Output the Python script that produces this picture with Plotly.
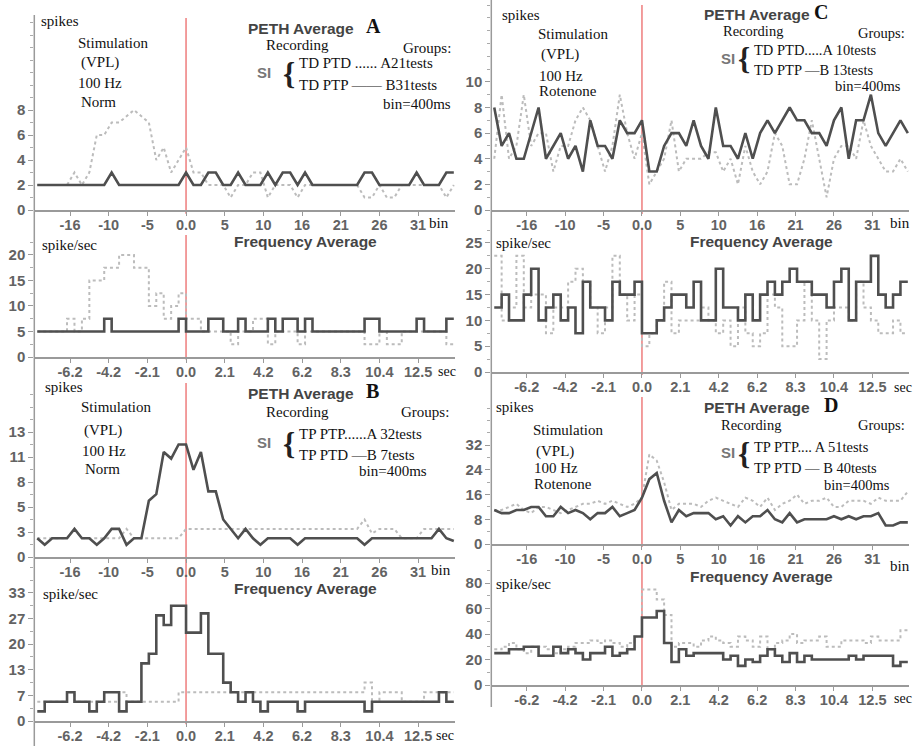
import plotly.graph_objects as go

W, H = 913, 746

# ---------------- data ----------------
BINS = list(range(-20, 37))          # PETH points (bin index, 400 ms bins)
EDGES = list(range(-20, 37))         # frequency-step interval edges

BIN_TICKS = [-15.6, -10.4, -5.2, 0, 5.2, 10.4, 15.6, 20.8, 26.0, 31.2]
BIN_LABELS = ["-16", "-10", "-5", "0.0", "5", "10", "16", "21", "26", "31"]
SEC_LABELS = ["-6.2", "-4.2", "-2.1", "0.0", "2.1", "4.2", "6.2", "8.3", "10.4", "12.5"]

# Panel A (Norm, TD)  -- spikes per bin
a_dark_count = [2, 2, 2, 2, 2, 2, 2, 2, 2, 2, 3, 2, 2, 2, 2, 2, 2, 2, 2, 2, 3,
                2, 2, 3, 3, 2, 2, 3, 2, 2, 2, 3, 2, 3, 3, 2, 3, 2, 2, 2, 2,
                2, 2, 2, 3, 3, 2, 2, 2, 2, 2, 3, 2, 2, 2, 3, 3]
a_gray_count = [2, 2, 2, 2, 2, 3, 2, 3, 6, 6, 7, 7, 7.5, 8, 7.5, 7, 4, 5, 3, 4, 5,
                3, 3, 2, 2, 2, 1, 2, 2, 3, 3, 1, 2, 2, 2, 1, 2, 2, 2, 2, 2,
                2, 2, 2, 1, 1, 2, 1, 1, 2, 2, 2, 2, 2, 2, 1, 2]
a_dark_freq = [5, 5, 5, 5, 5, 5, 5, 5, 5, 7.5, 5, 5, 5, 5, 5, 5, 5, 5, 5, 7.5,
               5, 5, 5, 7.5, 7.5, 5, 5, 7.5, 5, 5, 5, 7.5, 5, 7.5, 7.5, 5, 7.5, 5,
               5, 5, 5, 5, 5, 5, 7.5, 7.5, 5, 5, 5, 5, 5, 7.5, 5, 5, 5, 7.5]
a_gray_freq = [5, 5, 5, 5, 7.5, 5, 7.5, 15, 15, 17.5, 17.5, 20, 20, 17.5, 17.5, 10, 12.5, 7.5, 10, 12.5,
               7.5, 7.5, 5, 5, 5, 5, 2.5, 5, 5, 7.5, 7.5, 2.5, 5, 5, 5, 2.5, 5, 5,
               5, 5, 5, 5, 5, 5, 2.5, 2.5, 5, 2.5, 2.5, 5, 5, 5, 5, 5, 5, 2.5]

# Panel B (Norm, TP)
b_dark_count = [2, 1.3, 2, 2, 2, 3, 2, 2, 1.3, 2, 3, 3, 1.3, 2, 2, 6, 6.7, 11.2, 10.5, 12, 12,
                9.3, 11.2, 7, 7, 4, 3, 2, 3, 2, 1.3, 2, 2, 2, 2, 1.3, 2, 2, 2, 2, 2,
                2, 2, 2, 1.3, 2, 2, 2, 2, 2, 2, 2, 2, 2, 3, 2, 1.7]
b_gray_count = [2, 2, 2, 2, 2, 3, 2, 2, 2, 2, 2, 2, 3, 2, 2, 2, 2, 2, 2, 2, 3,
                3, 3, 3, 3, 3, 3, 3, 3, 3, 3, 3, 3, 3, 3, 3, 3, 3, 3, 3, 3,
                3, 3, 3, 4, 2.5, 3, 3, 3, 2, 2, 2, 3, 3, 3, 3, 3]
b_dark_freq = [2.5, 5, 5, 5, 7.5, 5, 5, 2.5, 5, 7.5, 7.5, 2.5, 5, 5, 15, 17.5, 27.5, 25, 30, 30,
               23, 23, 28, 17.5, 17.5, 10, 7.5, 5, 7.5, 5, 2.5, 5, 5, 5, 5, 2.5, 5, 5,
               5, 5, 5, 5, 5, 5, 2.5, 5, 5, 5, 5, 5, 5, 5, 5, 5, 7.5, 5]
b_gray_freq = [5, 5, 5, 5, 7.5, 5, 5, 5, 5, 5, 5, 7.5, 5, 5, 5, 5, 5, 5, 5, 7.5,
               7.5, 7.5, 7.5, 7.5, 7.5, 7.5, 7.5, 7.5, 7.5, 7.5, 7.5, 7.5, 7.5, 7.5, 7.5, 7.5, 7.5, 7.5,
               7.5, 7.5, 7.5, 7.5, 7.5, 7.5, 10, 5, 7.5, 7.5, 7.5, 5, 5, 5, 7.5, 7.5, 7.5, 7.5]

# Panel C (Rotenone, TD)
c_dark_count = [8, 5, 6, 4, 4, 6, 8, 4, 5, 6, 4, 5, 3, 7, 5, 5, 4, 7, 6, 6, 7,
                3, 3, 5, 6, 6, 5, 7, 5, 4, 8, 5, 5, 4, 6, 4, 6, 7, 6, 7, 8,
                7, 7, 6, 6, 5, 7, 8, 4, 7, 7, 9, 6, 5, 6, 7, 6]
c_gray_count = [4, 9, 4, 5, 9, 5, 6, 6, 3, 5, 5, 7, 8, 7, 5, 3, 5, 9, 6, 4, 6,
                2, 3, 4, 7, 3, 4, 4, 4, 4.5, 4.5, 3, 4, 2, 5, 3, 2, 3, 6, 5, 2,
                2, 4, 7, 4, 1, 4, 5, 5, 4, 7, 5, 4, 3, 3, 4, 3]
c_dark_freq = [12.5, 15, 10, 10, 15, 20, 10, 12.5, 15, 10, 12.5, 7.5, 17.5, 12.5, 12.5, 10, 17.5, 15, 15, 17.5,
               7.5, 7.5, 10, 12.5, 15, 15, 12.5, 17.5, 10, 10, 20, 12.5, 12.5, 10, 15, 10, 15, 17.5,
               15, 17.5, 20, 17.5, 17.5, 15, 15, 12.5, 17.5, 20, 10, 17.5, 17.5, 22.5, 15, 12.5, 15, 17.5]
c_gray_freq = [22.5, 10, 12.5, 22.5, 12.5, 15, 15, 7.5, 12.5, 12.5, 17.5, 20, 17.5, 12.5, 7.5, 12.5, 22.5, 15, 10, 15,
               5, 7.5, 10, 17.5, 7.5, 10, 10, 10, 12.5, 10, 7.5, 10, 5, 12.5, 7.5, 5, 7.5, 15,
               12.5, 5, 5, 10, 17.5, 10, 2.5, 10, 12.5, 12.5, 10, 17.5, 12.5, 10, 7.5, 7.5, 10, 7.5]

# Panel D (Rotenone, TP)
d_dark_count = [11, 10, 10, 11, 11, 12, 12, 9, 9, 12, 10, 11, 10, 8, 10, 10, 12, 9, 10, 11, 15,
                21, 23, 14, 7, 11, 9, 10, 10, 10, 8, 9, 6, 9, 7, 9, 9, 11, 8, 7, 10,
                7, 8, 8, 8, 8, 9, 8, 9, 8, 9, 9, 10, 6, 6, 7, 7]
d_gray_count = [11, 11, 12, 13, 11, 10, 12, 12, 11, 10, 11, 12, 13, 13, 14, 13, 14, 13, 12, 13, 15,
                29, 27, 20, 11, 13, 13, 13, 12, 14, 15, 14, 13, 12, 15, 14, 12, 15, 11, 13, 14,
                16, 13, 14, 14, 15, 12, 12, 14, 14, 14, 13, 15, 14, 14, 14, 17]
d_dark_freq = [25, 25, 28, 28, 30, 30, 23, 23, 30, 25, 28, 25, 20, 25, 25, 30, 23, 25, 28, 38,
               53, 53, 58, 33, 18, 28, 23, 25, 25, 25, 25, 20, 23, 15, 20, 18, 23, 28,
               23, 18, 25, 18, 23, 20, 20, 20, 20, 20, 23, 20, 23, 23, 23, 23, 15, 18]
d_gray_freq = [28, 30, 33, 28, 25, 30, 30, 28, 25, 28, 30, 33, 33, 35, 33, 35, 33, 30, 33, 38,
               75, 75, 67, 55, 30, 33, 33, 30, 35, 38, 35, 33, 30, 38, 35, 30, 38, 28,
               33, 35, 40, 33, 35, 35, 38, 30, 30, 35, 35, 35, 33, 38, 35, 35, 35, 43]

# ---------------- styling / layout ----------------
DARK = "#4f4f4f"
GRAY = "#bcbcbc"
RED = "#ef8585"
AXIS = "#9a9a9a"
TICKFONT = dict(family="Liberation Sans, Arial", size=15, color="#636363", weight="bold")
XTICKFONT = dict(family="Liberation Sans, Arial", size=14.5, color="#636363", weight="bold")
SERIF = "Liberation Serif, Times New Roman"
SANS = "Liberation Sans, Arial"

XR = [-20.4, 36.2]
COLS = {"L": (34.3, 455.3), "R": (491.3, 909.3)}

# (col, top px, bottom px, y max, tickvals, ticktext, minor dtick, x labels, kind, dark, gray)
panels = [
    ("L", 18, 210, 15.36, [0, 2, 4, 6, 8], None, 1, BIN_LABELS, "line", a_dark_count, a_gray_count),
    ("L", 235, 357, 23.9, [0, 5, 10, 15, 20], None, 2.5, SEC_LABELS, "step", a_dark_freq, a_gray_freq),
    ("L", 383, 557, 18.56, [0, 2.667, 5.333, 8, 10.667, 13.333], ["0", "3", "5", "8", "11", "13"], 1.3333,
     BIN_LABELS, "line", b_dark_count, b_gray_count),
    ("L", 560, 721, 41.9, [0, 6.667, 13.333, 20, 26.667, 33.333], ["0", "7", "13", "20", "27", "33"], 3.3333,
     SEC_LABELS, "step", b_dark_freq, b_gray_freq),
    ("R", 5, 210, 16.0, [0, 2, 4, 6, 8, 10], None, 1, BIN_LABELS, "line", c_dark_count, c_gray_count),
    ("R", 228, 372, 27.9, [0, 5, 10, 15, 20, 25], None, 2.5, SEC_LABELS, "step", c_dark_freq, c_gray_freq),
    ("R", 397, 544, 47.6, [0, 8, 16, 24, 32], None, 4, BIN_LABELS, "line", d_dark_count, d_gray_count),
    ("R", 563, 685, 95.7, [0, 20, 40, 60, 80], None, 10, SEC_LABELS, "step", d_dark_freq, d_gray_freq),
]

fig = go.Figure()
layout = {}
for i, (col, top, bot, ymax, tv, tt, mdt, xlab, kind, dark, gray) in enumerate(panels, start=1):
    sx = "" if i == 1 else str(i)
    xa, ya = "x" + sx, "y" + sx
    x0, x1 = COLS[col]
    layout["xaxis" + sx] = dict(
        domain=[x0 / W, x1 / W], range=XR, anchor=ya, showgrid=False, zeroline=False,
        automargin=False, showline=True, linecolor=AXIS, linewidth=1.5, ticks="outside",
        ticklen=4, tickcolor=AXIS, tickmode="array", tickvals=BIN_TICKS, ticktext=xlab,
        tickfont=XTICKFONT, ticklabelstandoff=-3,
    )
    layout["yaxis" + sx] = dict(
        domain=[1 - bot / H, 1 - top / H], range=[0, ymax], anchor=xa, showgrid=False,
        zeroline=False, automargin=False, showline=False, ticks="outside", ticklen=5,
        tickcolor=AXIS, tickmode="array", tickvals=tv,
        ticktext=tt if tt else [str(v) for v in tv], tickfont=TICKFONT,
        minor=dict(dtick=mdt, tick0=0, ticks="outside", ticklen=3, tickcolor="#aaaaaa", showgrid=False),
    )
    if kind == "line":
        fig.add_trace(go.Scatter(x=BINS, y=gray, mode="lines", xaxis=xa, yaxis=ya,
                                 line=dict(color=GRAY, width=2, dash="dot")))
        fig.add_trace(go.Scatter(x=BINS, y=dark, mode="lines", xaxis=xa, yaxis=ya,
                                 line=dict(color=DARK, width=2.6)))
    else:
        fig.add_trace(go.Scatter(x=EDGES, y=gray + [gray[-1]], mode="lines", xaxis=xa, yaxis=ya,
                                 line=dict(color=GRAY, width=2, dash="dot", shape="hv")))
        fig.add_trace(go.Scatter(x=EDGES, y=dark + [dark[-1]], mode="lines", xaxis=xa, yaxis=ya,
                                 line=dict(color=DARK, width=2.6, shape="hv")))
    # stimulus marker at time zero
    fig.add_shape(type="line", xref=xa, yref=ya + " domain", x0=0, x1=0, y0=-0.02, y1=1,
                  line=dict(color=RED, width=1.6), layer="below")

# continuous vertical axis lines of both columns
fig.add_shape(type="line", xref="paper", yref="paper", x0=34.3 / W, x1=34.3 / W,
              y0=0, y1=1 - 15 / H, line=dict(color=AXIS, width=1.5))
fig.add_shape(type="line", xref="paper", yref="paper", x0=491.3 / W, x1=491.3 / W,
              y0=1 - 707 / H, y1=1, line=dict(color=AXIS, width=1.5))


def txt(x, y, s, size=15, family=SERIF, color="#111111", anchor="left", weight="normal"):
    fig.add_annotation(x=x / W, y=1 - y / H, xref="paper", yref="paper", text=s,
                       showarrow=False, xanchor=anchor, yanchor="middle", borderpad=0,
                       font=dict(family=family, size=size, color=color, weight=weight))


BOLD_SANS = dict(size=15.5, family=SANS, color="#444444", weight="bold")
SI_STYLE = dict(size=15, family=SANS, color="#777777", weight="bold")
BRACE = dict(size=31, color="#222222", weight="bold")

# ---- Panel A texts ----
txt(40, 21, "spikes")
txt(77, 43, "Stimulation")
txt(80, 63, "(VPL)")
txt(77, 83, "100 Hz")
txt(80, 102, "Norm")
txt(247, 28, "PETH Average", **BOLD_SANS)
txt(365, 26, "A", size=20, weight="bold")
txt(265, 45, "Recording")
txt(452, 48, "Groups:", anchor="right")
txt(256, 73, "SI", **SI_STYLE)
txt(282, 74, "{", **BRACE)
txt(298, 63, "TD PTD ...... A21tests")
txt(298, 85, "TD PTP —— B31tests")
txt(452, 104, "bin=400ms", anchor="right")
txt(233, 241, "Frequency Average", **BOLD_SANS)
txt(41, 245, "spike/sec")
txt(428, 223, "bin")
txt(437, 371, "sec", size=14)

# ---- Panel B texts ----
txt(44, 387, "spikes")
txt(80, 407, "Stimulation")
txt(83, 430, "(VPL)")
txt(81, 451, "100 Hz")
txt(84, 469, "Norm")
txt(247, 393, "PETH Average", **BOLD_SANS)
txt(365, 391, "B", size=20, weight="bold")
txt(265, 412, "Recording")
txt(450, 412, "Groups:", anchor="right")
txt(256, 443, "SI", **SI_STYLE)
txt(282, 444, "{", **BRACE)
txt(298, 434, "TP PTP......A 32tests")
txt(298, 455, "TP PTD —B 7tests")
txt(358, 471, "bin=400ms")
txt(233, 588, "Frequency Average", **BOLD_SANS)
txt(42, 594, "spike/sec")
txt(430, 570, "bin")
txt(435, 735, "sec", size=14)

# ---- Panel C texts ----
txt(501, 15, "spikes")
txt(537, 34, "Stimulation")
txt(540, 55, "(VPL)")
txt(538, 76, "100 Hz")
txt(538, 91, "Rotenone")
txt(703, 14, "PETH Average", **BOLD_SANS)
txt(813, 12, "C", size=20, weight="bold")
txt(722, 31, "Recording", size=14.5)
txt(906, 33, "Groups:", anchor="right", size=14.5)
txt(720, 58, "SI", **SI_STYLE)
txt(737, 59, "{", **BRACE)
txt(753, 50, "TD PTD.....A 10tests", size=14.5)
txt(753, 70, "TD PTP —B 13tests", size=14.5)
txt(902, 86, "bin=400ms", anchor="right", size=14.5)
txt(689, 241, "Frequency Average", **BOLD_SANS)
txt(495, 243, "spike/sec")
txt(889, 223, "bin")
txt(893, 387, "sec", size=14)

# ---- Panel D texts ----
txt(495, 407, "spikes")
txt(532, 430, "Stimulation")
txt(535, 452, "(VPL)")
txt(533, 468, "100 Hz")
txt(533, 484, "Rotenone")
txt(703, 407, "PETH Average", **BOLD_SANS)
txt(823, 405, "D", size=20, weight="bold")
txt(720, 425, "Recording", size=14.5)
txt(906, 425, "Groups:", anchor="right", size=14.5)
txt(720, 453, "SI", **SI_STYLE)
txt(737, 454, "{", **BRACE)
txt(753, 447, "TP PTP.... A 51tests", size=14.5)
txt(753, 468, "TP PTD — B 40tests", size=14.5)
txt(823, 485, "bin=400ms", size=14.5)
txt(689, 576, "Frequency Average", **BOLD_SANS)
txt(495, 584, "spike/sec")
txt(889, 566, "bin")
txt(893, 698, "sec", size=14)

fig.update_layout(
    width=W, height=H, margin=dict(l=0, r=0, t=0, b=0, autoexpand=False),
    paper_bgcolor="white", plot_bgcolor="white", showlegend=False,
    **layout,
)
fig.write_html("out.html", config={"displayModeBar": False},
               post_script="document.body.style.margin='0px';")
